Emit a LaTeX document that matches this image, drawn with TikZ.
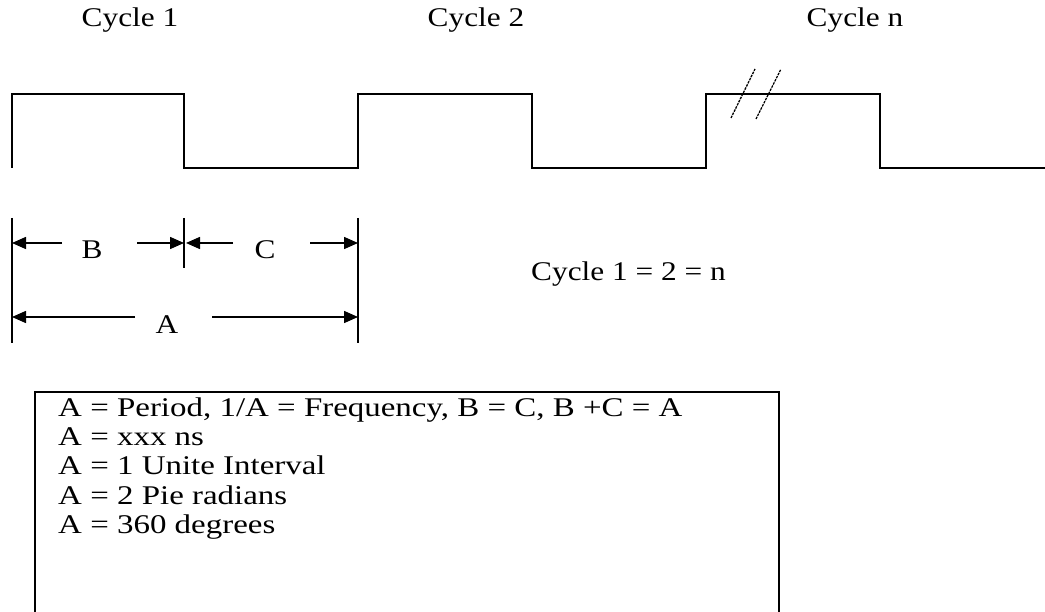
\documentclass[tikz,border=0pt]{standalone}
\usepackage{fontspec}
\setmainfont{Liberation Serif}
\usetikzlibrary{arrows.meta}
\begin{document}
\begin{tikzpicture}[x=1pt,y=-1pt,
  wave/.style={line width=2pt, line join=miter},
  brk/.style={line width=1.3pt, dash pattern=on 2.5pt off 1pt},
  dimline/.style={line width=1.5pt},
  dimarrow/.style={line width=1.5pt,-{Triangle[length=14pt,width=12pt]}},
  lbl/.style={inner sep=0pt, anchor=base, xscale=1.16, font=\fontsize{27}{30}\selectfont},
  boxline/.style={inner sep=0pt, anchor=base west, xscale=1.22, font=\fontsize{27}{30}\selectfont},
  frame/.style={line width=1.5pt}
]
\useasboundingbox (0,0) rectangle (1045,612);
\clip (0,0) rectangle (1045,612);
% cycle labels
\node[lbl] (c1) at (130,27) {Cycle 1};
\node[lbl] (c2) at (476,27) {Cycle 2};
\node[lbl] (cn) at (855,27) {Cycle n};
% waveform
\coordinate (w0) at (12,168);
\coordinate (w1) at (12,94);
\coordinate (w2) at (184,94);
\coordinate (w3) at (184,168);
\coordinate (w4) at (358,168);
\coordinate (w5) at (358,94);
\coordinate (w6) at (532,94);
\coordinate (w7) at (532,168);
\coordinate (w8) at (706,168);
\coordinate (w9) at (706,94);
\coordinate (w10) at (880,94);
\coordinate (w11) at (880,168);
\coordinate (w12) at (1045,168);
\draw[wave] (w0) -- (w1) -- (w2) -- (w3) -- (w4) -- (w5) -- (w6) -- (w7) -- (w8) -- (w9) -- (w10) -- (w11) -- (w12);
% break marks
\coordinate (b1s) at (731,118);
\coordinate (b1e) at (755,69);
\coordinate (b2s) at (756,119);
\coordinate (b2e) at (781,69);
\draw[brk] (b1s) -- (b1e);
\draw[brk] (b2s) -- (b2e);
% dimension extension lines
\coordinate (dLt) at (12,218);
\coordinate (dLb) at (12,343);
\coordinate (dMt) at (184,218);
\coordinate (dMb) at (184,268);
\coordinate (dRt) at (358,218);
\coordinate (dRb) at (358,343);
\draw[dimline] (dLt) -- (dLb);
\draw[dimline] (dMt) -- (dMb);
\draw[dimline] (dRt) -- (dRb);
% labels
\node[lbl] (B) at (92,259) {B};
\node[lbl] (C) at (265,259) {C};
\node[lbl] (A) at (167,334) {A};
\node[lbl, anchor=base west] (eq) at (531,281) {Cycle 1 = 2 = n};
% arrows
\coordinate (Bl) at (62,243);
\coordinate (Bl2) at (12,243);
\coordinate (Br) at (137,243);
\coordinate (Br2) at (184,243);
\coordinate (Cl) at (233,243);
\coordinate (Cl2) at (186,243);
\coordinate (Cr) at (310,243);
\coordinate (Cr2) at (358,243);
\coordinate (Al) at (135,317);
\coordinate (Al2) at (12,317);
\coordinate (Ar) at (212,317);
\coordinate (Ar2) at (358,317);
\draw[dimarrow] (Bl) -- (Bl2);
\draw[dimarrow] (Br) -- (Br2);
\draw[dimarrow] (Cl) -- (Cl2);
\draw[dimarrow] (Cr) -- (Cr2);
\draw[dimarrow] (Al) -- (Al2);
\draw[dimarrow] (Ar) -- (Ar2);
% box
\draw[frame] (35,392) rectangle (779,640);
\node[boxline] (t1) at (58,417) {A = Period, 1/A = Frequency, B = C, B +C = A};
\node[boxline] (t2) at (58,446) {A = xxx ns};
\node[boxline] (t3) at (58,475) {A = 1 Unite Interval};
\node[boxline] (t4) at (58,504) {A = 2 Pie radians};
\node[boxline] (t5) at (58,533) {A = 360 degrees};
\end{tikzpicture}
\end{document}
